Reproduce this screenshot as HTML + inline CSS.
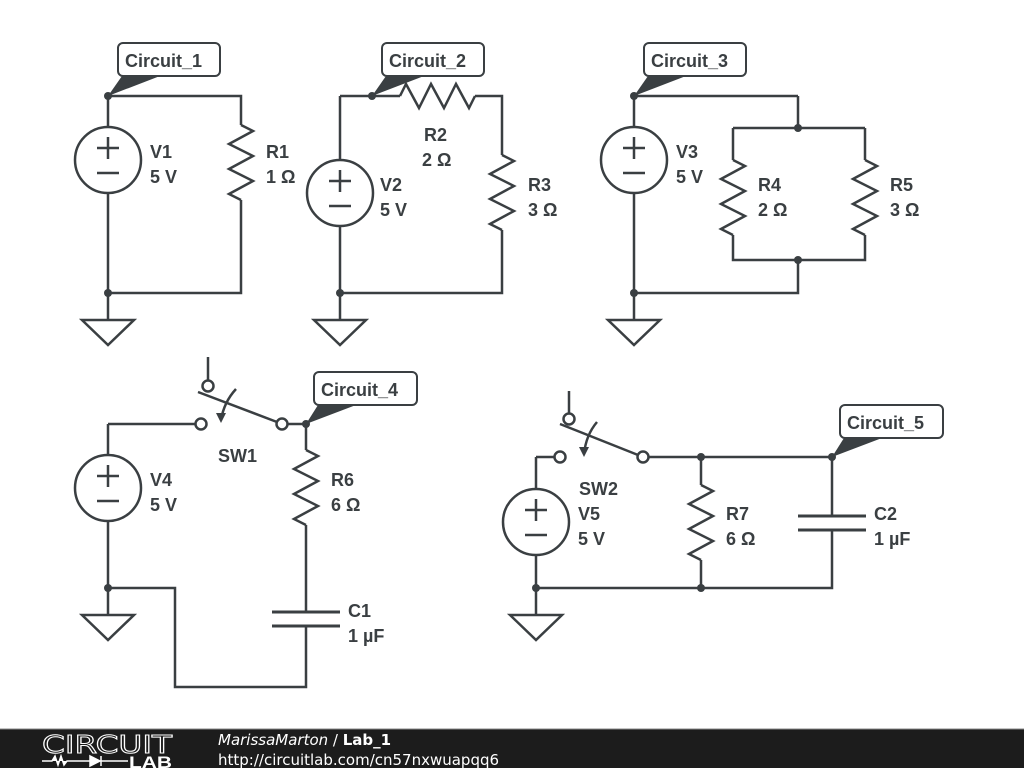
<!DOCTYPE html>
<html><head><meta charset="utf-8"><style>
html,body{margin:0;padding:0;background:#fff;}
svg{display:block}
.t text{font-family:"Liberation Sans",Arial,sans-serif;font-weight:700;font-size:18px;fill:#3a3f42}
.ft{font-family:"DejaVu Sans","Liberation Sans",sans-serif;font-weight:normal;font-size:15px;fill:#fff}
</style></head><body>
<svg width="1024" height="768" viewBox="0 0 1024 768" xmlns="http://www.w3.org/2000/svg">
<defs>
<polyline id="res" points="0,0 12,6 -12,19 12,31 -12,44 12,56 -12,69 0,75" fill="none" stroke="#3a3f42" stroke-width="2.5" stroke-linejoin="miter"/>
<g id="vs"><circle cx="0" cy="0" r="33" fill="#fff" stroke="#3a3f42" stroke-width="2.5"/>
<path d="M-11,-12 H11 M0,-23 V-1 M-11,13 H11" stroke="#3a3f42" stroke-width="2.5" fill="none"/></g>
<g id="gnd"><path d="M0,0 V27" stroke="#3a3f42" stroke-width="2.5"/><polygon points="-26,27 26,27 0,52" fill="#fff" stroke="#3a3f42" stroke-width="2.5" stroke-linejoin="miter"/></g>
</defs>
<g stroke="#3a3f42" stroke-width="2.5" fill="none">
<path d="M108,96 V127 M108,193 V293 H241 V200 M241,125 V96 H108"/>
<path d="M340,96 V160 M340,226 V293 H502 V230 M502,155 V96 H475 M400,96 H340"/>
<path d="M634,96 V127 M634,193 V293 H798 V260 M798,96 V128 M733,128 H865 M733,128 V160 M733,235 V260 H865 V235 M865,160 V128 M798,96 H634"/>
<path d="M108,424 V455 M108,521 V588 H175 V687 H306 V626 M306,612 V525 M306,450 V424 H288 M196,424 H108"/>
<path d="M272,612 H340 M272,626 H340" stroke-width="3"/>
<path d="M208,381 V357"/>
<path d="M198,392 L277,422"/>
<path d="M236,389 Q224,402 221,420"/>
<path d="M536,457 V489 M536,555 V588 H832 V530 M832,516 V457 H648 M555,457 H536 M701,457 V485 M701,560 V588"/>
<path d="M798,516 H866 M798,530 H866" stroke-width="3"/>
<path d="M569,414 V391"/>
<path d="M560,424 L638,455"/>
<path d="M597,422 Q586,435 584,454"/>
</g>
<g fill="#3a3f42">
<polygon points="216,413 226,413 221,423"/>
<polygon points="579,447 589,447 584,457"/>
</g>
<g fill="#fff" stroke="#3a3f42" stroke-width="2.5">
<circle cx="201" cy="424" r="5.5"/><circle cx="282" cy="424" r="5.5"/><circle cx="208" cy="386" r="5.5"/>
<circle cx="560" cy="457" r="5.5"/><circle cx="643" cy="457" r="5.5"/><circle cx="569" cy="419" r="5.5"/>
</g>
<use href="#res" x="241" y="125"/>
<use href="#res" transform="translate(400,96) rotate(-90)"/>
<use href="#res" x="502" y="155"/>
<use href="#res" x="733" y="160"/>
<use href="#res" x="865" y="160"/>
<use href="#res" x="306" y="450"/>
<use href="#res" x="701" y="485"/>
<use href="#vs" x="108" y="160"/>
<use href="#vs" x="340" y="193"/>
<use href="#vs" x="634" y="160"/>
<use href="#vs" x="108" y="488"/>
<use href="#vs" x="536" y="522"/>
<use href="#gnd" x="108" y="293"/>
<use href="#gnd" x="340" y="293"/>
<use href="#gnd" x="634" y="293"/>
<use href="#gnd" x="108" y="588"/>
<use href="#gnd" x="536" y="588"/>
<g fill="#3a3f42">
<circle cx="108" cy="293" r="4"/><circle cx="340" cy="293" r="4"/><circle cx="634" cy="293" r="4"/>
<circle cx="798" cy="128" r="4"/><circle cx="798" cy="260" r="4"/>
<circle cx="108" cy="588" r="4"/><circle cx="536" cy="588" r="4"/><circle cx="701" cy="588" r="4"/><circle cx="701" cy="457" r="4"/>
<polygon points="108,96 122,76 160,76"/><circle cx="108" cy="96" r="4"/>
<polygon points="372,96 386,76 424,76"/><circle cx="372" cy="96" r="4"/>
<polygon points="634,96 648,76 686,76"/><circle cx="634" cy="96" r="4"/>
<polygon points="306,424 318,405 356,405"/><circle cx="306" cy="424" r="4"/>
<polygon points="832,457 844,438 882,438"/><circle cx="832" cy="457" r="4"/>
</g>
<g fill="#fff" stroke="#3a3f42" stroke-width="2">
<rect x="118" y="43" width="102" height="33" rx="5"/>
<rect x="382" y="43" width="102" height="33" rx="5"/>
<rect x="644" y="43" width="102" height="33" rx="5"/>
<rect x="314" y="372" width="103" height="33" rx="5"/>
<rect x="840" y="405" width="103" height="33" rx="5"/>
</g>
<g class="t">
<text x="125" y="67">Circuit_1</text>
<text x="389" y="67">Circuit_2</text>
<text x="651" y="67">Circuit_3</text>
<text x="321" y="396">Circuit_4</text>
<text x="847" y="429">Circuit_5</text>
<text x="150" y="158">V1</text><text x="150" y="183">5 V</text>
<text x="266" y="158">R1</text><text x="266" y="183">1 Ω</text>
<text x="380" y="191">V2</text><text x="380" y="216">5 V</text>
<text x="424" y="141">R2</text><text x="422" y="166">2 Ω</text>
<text x="528" y="191">R3</text><text x="528" y="216">3 Ω</text>
<text x="676" y="158">V3</text><text x="676" y="183">5 V</text>
<text x="758" y="191">R4</text><text x="758" y="216">2 Ω</text>
<text x="890" y="191">R5</text><text x="890" y="216">3 Ω</text>
<text x="218" y="462">SW1</text>
<text x="150" y="486">V4</text><text x="150" y="511">5 V</text>
<text x="331" y="486">R6</text><text x="331" y="511">6 Ω</text>
<text x="348" y="617">C1</text><text x="348" y="642">1 µF</text>
<text x="579" y="495">SW2</text>
<text x="578" y="520">V5</text><text x="578" y="545">5 V</text>
<text x="726" y="520">R7</text><text x="726" y="545">6 Ω</text>
<text x="874" y="520">C2</text><text x="874" y="545">1 µF</text>
</g>
<rect x="0" y="729" width="1024" height="39" fill="#1c1c1c"/>
<line x1="0" y1="729" x2="1024" y2="729" stroke="#888" stroke-width="1"/>
<text x="42" y="753" textLength="130" lengthAdjust="spacingAndGlyphs" style="font-family:'DejaVu Sans',sans-serif;font-weight:normal;font-size:25px;fill:none;stroke:#fff;stroke-width:1">CIRCUIT</text>
<path d="M42,761 H52 L55,756 L58,765 L61,756 L64,765 L67,761 H90 M90,756 V766 L100,761 Z M101,756 V766 M101,761 H128" stroke="#fff" stroke-width="1.5" fill="#fff"/>
<text x="129" y="768" textLength="43" lengthAdjust="spacingAndGlyphs" style="font-family:'Liberation Sans',sans-serif;font-weight:bold;font-size:17px;fill:#fff">LAB</text>
<text x="218" y="745" class="ft"><tspan font-style="italic">MarissaMarton</tspan> / <tspan font-weight="bold">Lab_1</tspan></text>
<text x="218" y="765" class="ft">http://circuitlab.com/cn57nxwuapqq6</text>
</svg>
</body></html>
